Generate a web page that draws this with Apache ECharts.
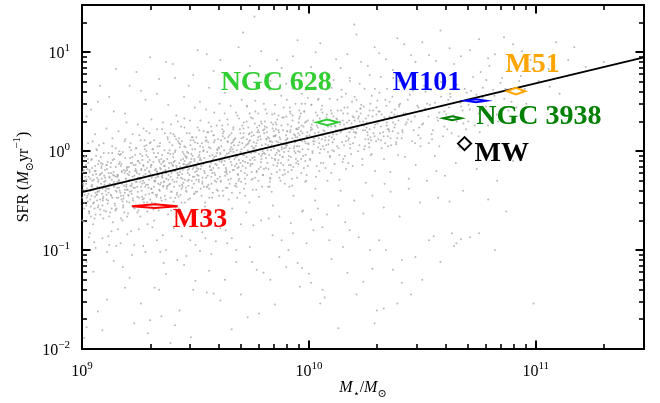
<!DOCTYPE html>
<html>
<head>
<meta charset="utf-8">
<script src="https://cdn.jsdelivr.net/npm/echarts@6/dist/echarts.min.js"></script>
<style>
  html, body { margin: 0; padding: 0; background: #fff; }
  #chart { width: 660px; height: 403px; }
</style>
</head>
<body>
<div id="chart"></div>
<script>
// ---- Galaxy sample: flat pairs of (log10 M*, log10 SFR) ----
// main sequence, 10^9 - 10^9.5 Msun
const mainSeqLow = [
  9.003,-0.21, 9.011,-0.52, 9.018,-0.33, 9.026,-0.08, 9.031,-0.61, 9.037,-0.40, 9.044,-0.17, 9.049,-0.74, 9.052,-0.29, 9.058,-0.46,
  9.063,0.02, 9.067,-0.36, 9.072,-0.55, 9.078,-0.24, 9.083,-0.12, 9.089,-0.43, 9.094,-0.68, 9.098,-0.31, 9.006,-0.39, 9.014,-0.05,
  9.021,-0.47, 9.029,-0.26, 9.035,-0.83, 9.041,-0.35, 9.047,0.10, 9.055,-0.58, 9.060,-0.20, 9.066,-0.44, 9.071,-0.13, 9.076,-0.37,
  9.081,-0.64, 9.087,-0.28, 9.092,-0.50, 9.096,-0.02, 9.008,-0.71, 9.016,-0.30, 9.024,-0.45, 9.033,-0.19, 9.039,-0.56, 9.046,-0.34,
  9.054,-0.92, 9.062,-0.23, 9.069,-0.41, 9.075,0.06, 9.080,-0.49, 9.086,-0.15, 9.091,-0.38, 9.097,-0.60,
  9.102,-0.27, 9.108,-0.49, 9.113,-0.11, 9.119,-0.38, 9.124,-0.62, 9.129,-0.22, 9.133,0.05, 9.138,-0.33, 9.144,-0.53, 9.149,-0.16,
  9.153,-0.41, 9.158,-0.79, 9.162,-0.29, 9.167,-0.04, 9.172,-0.45, 9.176,-0.21, 9.181,-0.57, 9.186,-0.35, 9.191,0.12, 9.195,-0.31,
  9.199,-0.66, 9.104,-0.40, 9.110,-0.18, 9.116,-0.86, 9.121,-0.26, 9.127,-0.44, 9.135,-0.09, 9.141,-0.36, 9.147,-0.60, 9.155,-0.24,
  9.160,-0.47, 9.165,0.00, 9.170,-0.32, 9.178,-0.70, 9.184,-0.19, 9.189,-0.42, 9.193,-0.28, 9.197,-0.51, 9.106,-0.14, 9.118,-0.34,
  9.131,-0.58, 9.142,-0.25, 9.151,-0.96, 9.163,-0.37, 9.174,-0.13, 9.183,-0.48, 9.192,-0.20, 9.198,-0.39,
  9.298,-0.09, 9.291,-0.34, 9.287,-0.52, 9.280,-0.23, 9.276,0.11, 9.269,-0.30, 9.262,-0.18, 9.257,-0.66, 9.250,-0.27, 9.246,-0.41,
  9.239,0.03, 9.234,-0.20, 9.227,-0.37, 9.221,-0.12, 9.216,-0.81, 9.210,-0.29, 9.205,-0.45, 9.200,-0.16, 9.294,-0.25, 9.283,-0.04,
  9.273,-0.48, 9.265,-0.33, 9.253,0.16, 9.242,-0.22, 9.232,-0.58, 9.223,-0.26, 9.212,-0.07, 9.202,-0.39, 9.289,-0.74, 9.278,-0.19,
  9.260,-0.36, 9.248,-0.10, 9.237,-0.31, 9.225,-0.50, 9.214,0.08, 9.207,-0.24, 9.296,-0.43, 9.271,-0.15, 9.255,-0.28, 9.230,-0.95,
  9.219,-0.35, 9.284,0.20, 9.244,-0.62, 9.266,-0.05, 9.209,-0.21, 9.236,-0.14, 9.274,-0.32, 9.251,-0.47,
  9.347,-0.18, 9.312,-0.42, 9.389,-0.03, 9.325,-0.27, 9.371,-0.55, 9.303,0.09, 9.358,-0.21, 9.336,-0.33, 9.394,-0.12, 9.318,-0.70,
  9.381,-0.24, 9.342,0.05, 9.306,-0.38, 9.365,-0.15, 9.329,-0.46, 9.353,0.22, 9.399,-0.29, 9.315,-0.11, 9.374,-0.36, 9.338,-0.60,
  9.386,0.01, 9.321,-0.19, 9.361,-0.31, 9.308,-0.52, 9.349,-0.08, 9.392,-0.41, 9.333,-0.25, 9.377,0.14, 9.301,-0.23, 9.356,-0.85,
  9.327,-0.06, 9.384,-0.34, 9.344,-0.17, 9.368,-0.49, 9.311,0.02, 9.396,-0.20, 9.340,-0.39, 9.362,-0.10, 9.323,-0.30, 9.379,-0.64,
  9.305,-0.14, 9.352,-0.26, 9.390,0.18, 9.331,-0.44, 9.370,-0.22, 9.317,-0.02, 9.359,-0.35, 9.345,-1.02,
  9.404,-0.11, 9.471,-0.29, 9.433,0.07, 9.492,-0.16, 9.418,-0.44, 9.455,-0.05, 9.441,-0.23, 9.409,0.15, 9.486,-0.37, 9.463,-0.14,
  9.427,-0.58, 9.498,0.02, 9.412,-0.20, 9.447,-0.32, 9.479,0.11, 9.436,-0.09, 9.421,-0.27, 9.468,-0.49, 9.402,-0.03, 9.489,-0.18,
  9.452,0.24, 9.430,-0.35, 9.475,-0.12, 9.415,-0.66, 9.444,-0.01, 9.495,-0.26, 9.458,-0.40, 9.424,0.10, 9.482,-0.08, 9.407,-0.31,
  9.466,-0.19, 9.439,-0.52, 9.451,0.05, 9.416,-0.15, 9.493,-0.43, 9.428,-0.24, 9.474,0.18, 9.449,-0.13, 9.405,-0.78, 9.484,-0.30,
  9.461,-0.06, 9.432,-0.21, 9.423,0.30, 9.496,-0.10, 9.443,-0.36, 9.469,-0.02, 9.411,-0.47, 9.477,-0.90
];

// main sequence, 10^9.5 - 10^10 Msun
const mainSeqMid = [
  9.513,-0.06, 9.547,-0.27, 9.582,0.09, 9.526,-0.15, 9.561,-0.38, 9.595,-0.02, 9.504,0.14, 9.538,-0.20, 9.573,-0.47, 9.519,-0.09,
  9.552,0.19, 9.588,-0.13, 9.531,-0.31, 9.566,0.03, 9.508,-0.24, 9.542,-0.56, 9.577,-0.08, 9.599,0.12, 9.523,-0.18, 9.557,-0.34,
  9.535,0.00, 9.584,-0.22, 9.501,-0.41, 9.569,0.25, 9.546,-0.11, 9.515,-0.29, 9.591,-0.05, 9.528,0.08, 9.563,-0.16, 9.540,-0.63,
  9.579,0.16, 9.510,-0.12, 9.554,-0.25, 9.593,-0.39, 9.533,0.04, 9.571,-0.19, 9.521,-0.07, 9.586,-0.30, 9.549,0.11, 9.506,-0.17,
  9.559,-0.72, 9.597,0.01, 9.537,-0.36, 9.575,-0.04, 9.517,0.21, 9.544,-0.88,
  9.604,0.03, 9.637,-0.21, 9.672,0.12, 9.618,-0.09, 9.651,-0.33, 9.689,0.06, 9.625,0.20, 9.660,-0.14, 9.696,-0.42, 9.609,-0.02,
  9.643,0.27, 9.678,-0.06, 9.631,-0.25, 9.665,0.09, 9.602,-0.17, 9.647,-0.49, 9.683,0.01, 9.621,0.15, 9.656,-0.11, 9.693,-0.28,
  9.614,0.05, 9.669,-0.19, 9.635,-0.37, 9.606,0.31, 9.676,-0.04, 9.641,0.10, 9.687,-0.23, 9.627,-0.07, 9.662,-0.58, 9.698,0.18,
  9.612,-0.30, 9.653,0.02, 9.681,-0.13, 9.623,-0.45, 9.667,0.22, 9.639,-0.03, 9.691,-0.16, 9.608,-0.66, 9.658,0.08, 9.629,-0.10,
  9.674,-0.35, 9.645,0.14, 9.616,-0.08, 9.685,0.36, 9.633,-0.80, 9.699,-0.01,
  9.707,0.08, 9.742,-0.15, 9.776,0.21, 9.715,-0.04, 9.753,-0.28, 9.788,0.12, 9.726,0.30, 9.761,-0.09, 9.794,-0.36, 9.703,0.02,
  9.735,0.17, 9.770,-0.20, 9.719,-0.45, 9.749,0.05, 9.782,0.26, 9.731,-0.12, 9.766,-0.01, 9.711,0.14, 9.798,-0.24, 9.745,0.34,
  9.722,-0.17, 9.757,0.09, 9.790,-0.05, 9.738,-0.52, 9.773,0.19, 9.701,-0.31, 9.729,0.07, 9.764,0.40, 9.796,0.00, 9.717,-0.22,
  9.751,-0.07, 9.785,0.15, 9.733,0.24, 9.768,-0.39, 9.709,-0.10, 9.740,0.11, 9.779,-0.18, 9.724,-0.62, 9.759,0.03, 9.792,0.28,
  9.713,0.18, 9.747,-0.29, 9.780,-0.03, 9.727,0.45, 9.755,-0.75,
  9.872,-0.19, 9.815,0.24, 9.893,0.07, 9.844,0.15, 9.807,-0.03, 9.861,0.32, 9.829,-0.27, 9.880,0.02, 9.851,-0.09, 9.803,0.18,
  9.898,0.11, 9.836,-0.41, 9.866,0.21, 9.821,0.06, 9.887,-0.14, 9.848,0.38, 9.811,-0.07, 9.875,-0.30, 9.832,0.10, 9.857,0.27,
  9.890,-0.01, 9.825,0.13, 9.869,0.00, 9.802,-0.18, 9.841,-0.55, 9.883,0.34, 9.818,0.01, 9.854,0.16, 9.895,-0.23, 9.838,0.09,
  9.863,-0.12, 9.809,0.42, 9.877,0.08, 9.827,-0.36, 9.846,0.20, 9.885,-0.06, 9.813,0.12, 9.859,-0.21, 9.834,0.29, 9.899,0.04,
  9.823,-0.68, 9.871,0.14, 9.852,-0.04, 9.806,0.25,
  9.953,0.18, 9.921,-0.06, 9.988,0.30, 9.904,0.12, 9.967,-0.22, 9.936,0.05, 9.979,0.40, 9.912,-0.14, 9.945,0.23, 9.997,0.08,
  9.928,0.36, 9.960,-0.01, 9.907,0.27, 9.984,-0.31, 9.941,0.14, 9.972,0.02, 9.916,0.44, 9.951,-0.10, 9.993,0.19, 9.932,-0.45,
  9.963,0.11, 9.901,0.06, 9.976,0.25, 9.924,-0.19, 9.957,0.33, 9.986,-0.04, 9.939,0.16, 9.910,0.00, 9.969,0.48, 9.948,-0.27,
  9.919,0.21, 9.981,0.10, 9.934,0.03, 9.995,-0.15, 9.955,0.29, 9.927,0.13, 9.974,-0.60, 9.905,0.20, 9.943,-0.08, 9.965,0.38,
  9.990,0.15, 9.914,-0.36
];

// densest ridge of the sequence, 10^9 - 10^10.4 Msun
const mainSeqCore = [
  9.002,-0.47, 9.037,-0.28, 9.019,-0.55, 9.044,-0.36, 9.008,-0.19, 9.031,-0.61, 9.013,-0.40, 9.048,-0.24, 9.025,-0.51, 9.005,-0.33,
  9.040,-0.66, 9.017,-0.14, 9.029,-0.43, 9.046,-0.30, 9.010,-0.58, 9.034,-0.21, 9.022,-0.38, 9.001,-0.70, 9.042,-0.45, 9.015,-0.26,
  9.027,-0.12, 9.049,-0.53, 9.007,-0.35, 9.036,-0.49, 9.020,-0.29, 9.043,-0.08, 9.011,-0.44, 9.032,-0.63, 9.024,-0.18, 9.046,-0.39,
  9.071,-0.31, 9.053,-0.52, 9.088,-0.22, 9.064,-0.44, 9.096,-0.36, 9.058,-0.15, 9.080,-0.59, 9.067,-0.27, 9.092,-0.48, 9.051,-0.39,
  9.075,-0.10, 9.084,-0.33, 9.060,-0.64, 9.098,-0.25, 9.069,-0.41, 9.056,-0.20, 9.090,-0.55, 9.078,-0.37, 9.062,-0.05, 9.094,-0.46,
  9.073,-0.29, 9.055,-0.68, 9.086,-0.17, 9.066,-0.50, 9.099,-0.34, 9.059,-0.42, 9.082,-0.23, 9.070,-0.57, 9.091,-0.13, 9.076,-0.40,
  9.117,-0.42, 9.139,-0.21, 9.103,-0.30, 9.146,-0.55, 9.128,-0.12, 9.111,-0.38, 9.134,-0.47, 9.150,-0.26, 9.106,-0.61, 9.123,-0.33,
  9.142,-0.08, 9.115,-0.50, 9.131,-0.29, 9.101,-0.19, 9.148,-0.40, 9.120,-0.66, 9.137,-0.24, 9.108,-0.44, 9.126,-0.16, 9.144,-0.35,
  9.113,-0.53, 9.133,-0.02, 9.104,-0.37, 9.121,-0.27, 9.149,-0.59, 9.110,-0.14, 9.129,-0.45, 9.141,-0.31, 9.118,-0.22, 9.136,-0.72,
  9.158,-0.26, 9.183,-0.45, 9.167,-0.11, 9.196,-0.34, 9.152,-0.58, 9.175,-0.20, 9.189,-0.39, 9.161,-0.03, 9.179,-0.51, 9.193,-0.28,
  9.155,-0.37, 9.171,-0.15, 9.186,-0.62, 9.164,-0.30, 9.199,-0.19, 9.153,-0.47, 9.177,-0.33, 9.191,-0.07, 9.169,-0.42, 9.159,-0.24,
  9.182,-0.55, 9.195,-0.36, 9.163,-0.13, 9.174,-0.49, 9.188,-0.22, 9.156,-0.31, 9.172,-0.68, 9.197,-0.17, 9.166,-0.40, 9.180,-0.01,
  9.213,-0.35, 9.236,-0.18, 9.204,-0.44, 9.247,-0.27, 9.222,-0.06, 9.209,-0.52, 9.241,-0.31, 9.228,-0.14, 9.218,-0.40, 9.249,-0.60,
  9.201,-0.23, 9.233,-0.37, 9.216,0.01, 9.244,-0.46, 9.226,-0.29, 9.207,-0.16, 9.238,-0.55, 9.220,-0.33, 9.246,-0.10, 9.211,-0.41,
  9.231,-0.25, 9.203,-0.63, 9.240,-0.20, 9.224,-0.48, 9.215,-0.12, 9.243,-0.36, 9.229,-0.57, 9.206,-0.30, 9.235,-0.04, 9.219,-0.43,
  9.283,-0.34, 9.254,-0.12, 9.297,-0.21, 9.268,-0.49, 9.277,0.02, 9.259,-0.28, 9.290,-0.06, 9.263,-0.40, 9.286,-0.17, 9.251,-0.55,
  9.272,-0.25, 9.299,0.08, 9.257,-0.31, 9.280,-0.44, 9.266,-0.09, 9.293,-0.37, 9.261,-0.19, 9.275,0.05, 9.252,-0.23, 9.288,-0.61,
  9.270,-0.14, 9.295,-0.29, 9.256,-0.03, 9.279,-0.36, 9.265,-0.46, 9.291,-0.11, 9.258,-0.27, 9.284,0.00, 9.273,-0.52, 9.296,-0.20,
  9.318,-0.30, 9.341,-0.11, 9.305,-0.38, 9.329,-0.20, 9.347,-0.47, 9.312,0.02, 9.336,-0.26, 9.323,-0.53, 9.303,-0.16, 9.344,-0.34,
  9.327,-0.06, 9.309,-0.42, 9.338,-0.23, 9.315,-0.59, 9.349,-0.13, 9.321,-0.31, 9.333,0.05, 9.307,-0.27, 9.343,-0.40, 9.326,-0.18,
  9.301,-0.49, 9.339,-0.09, 9.317,-0.36, 9.331,-0.21, 9.346,-0.56, 9.311,-0.25, 9.335,-0.02, 9.324,-0.44, 9.306,-0.14, 9.348,-0.32,
  9.362,-0.15, 9.388,-0.33, 9.354,-0.24, 9.379,-0.02, 9.396,-0.41, 9.367,-0.19, 9.351,-0.50, 9.384,-0.12, 9.372,-0.28, 9.398,0.06,
  9.358,-0.36, 9.376,-0.08, 9.391,-0.26, 9.365,-0.45, 9.382,-0.17, 9.353,-0.04, 9.370,-0.55, 9.394,-0.22, 9.361,-0.31, 9.386,0.09,
  9.374,-0.38, 9.357,-0.11, 9.390,-0.47, 9.368,-0.20, 9.381,-0.29, 9.399,-0.14, 9.363,0.01, 9.377,-0.35, 9.355,-0.27, 9.393,-0.60,
  9.436,-0.27, 9.402,-0.06, 9.447,-0.13, 9.419,-0.42, 9.428,0.08, 9.407,-0.20, 9.441,-0.34, 9.412,0.01, 9.433,-0.16, 9.404,-0.51,
  9.449,-0.03, 9.423,-0.24, 9.415,0.12, 9.438,-0.38, 9.409,-0.10, 9.444,-0.19, 9.426,-0.46, 9.401,-0.15, 9.431,0.04, 9.417,-0.31,
  9.446,-0.08, 9.421,-0.22, 9.406,-0.36, 9.440,0.10, 9.413,-0.57, 9.429,-0.12, 9.443,-0.28, 9.410,-0.01, 9.434,-0.44, 9.418,-0.17,
  9.487,-0.05, 9.453,-0.29, 9.472,-0.18, 9.498,0.09, 9.461,-0.41, 9.480,-0.11, 9.456,0.04, 9.493,-0.33, 9.467,-0.22, 9.484,0.14,
  9.451,-0.16, 9.476,-0.48, 9.495,-0.08, 9.463,-0.01, 9.489,-0.26, 9.458,-0.37, 9.478,0.06, 9.470,-0.13, 9.499,-0.21, 9.454,-0.52,
  9.482,-0.03, 9.465,-0.30, 9.491,0.11, 9.459,-0.14, 9.474,-0.24, 9.496,-0.43, 9.460,-0.07, 9.486,0.02, 9.469,-0.35, 9.452,-0.10,
  9.512,-0.18, 9.536,0.01, 9.504,-0.29, 9.548,-0.11, 9.523,-0.38, 9.509,0.08, 9.541,-0.22, 9.517,-0.04, 9.530,-0.33, 9.546,0.14,
  9.502,-0.15, 9.527,-0.45, 9.539,-0.07, 9.514,-0.25, 9.549,-0.36, 9.521,0.05, 9.506,-0.20, 9.534,-0.13, 9.543,-0.52, 9.519,-0.01,
  9.531,-0.27, 9.508,-0.41, 9.545,0.10, 9.525,-0.09, 9.515,-0.31,
  9.563,-0.05, 9.587,-0.24, 9.556,0.09, 9.594,-0.14, 9.571,-0.33, 9.552,-0.01, 9.581,0.16, 9.598,-0.28, 9.566,-0.19, 9.577,-0.42,
  9.559,0.04, 9.590,-0.09, 9.574,-0.22, 9.553,-0.36, 9.585,0.11, 9.568,-0.12, 9.596,0.02, 9.561,-0.47, 9.579,-0.17, 9.592,-0.31,
  9.557,0.19, 9.583,-0.06, 9.570,-0.26, 9.599,-0.40, 9.564,-0.15,
  9.647,-0.02, 9.608,-0.26, 9.629,0.13, 9.615,-0.11, 9.641,-0.37, 9.602,0.04, 9.636,-0.19, 9.621,0.18, 9.649,-0.08, 9.611,-0.31,
  9.625,-0.14, 9.643,0.09, 9.604,-0.45, 9.632,-0.05, 9.618,0.22, 9.639,-0.23, 9.607,-0.10, 9.627,0.01, 9.645,-0.29, 9.613,0.11,
  9.634,-0.17, 9.620,-0.40, 9.650,0.16, 9.609,-0.03, 9.631,-0.21,
  9.663,0.02, 9.686,-0.17, 9.656,-0.28, 9.694,0.09, 9.672,-0.08, 9.659,0.18, 9.681,-0.36, 9.698,-0.12, 9.667,-0.01, 9.676,0.13,
  9.652,-0.21, 9.690,-0.30, 9.670,0.06, 9.683,-0.05, 9.661,-0.42, 9.696,0.22, 9.674,-0.15, 9.655,0.00, 9.688,-0.24, 9.668,0.11,
  9.679,-0.33, 9.692,-0.09, 9.658,0.04, 9.684,-0.47, 9.665,-0.19,
  9.741,-0.09, 9.703,0.13, 9.728,-0.24, 9.716,0.04, 9.749,0.19, 9.708,-0.15, 9.734,0.08, 9.721,-0.33, 9.745,-0.02, 9.712,0.23,
  9.737,0.10, 9.701,-0.20, 9.725,-0.06, 9.747,0.15, 9.718,-0.28, 9.731,0.01, 9.706,0.26, 9.743,-0.13, 9.723,0.06, 9.714,-0.38,
  9.739,0.18, 9.710,-0.04, 9.727,0.12, 9.748,-0.21, 9.719,-0.11,
  9.791,-0.08, 9.757,0.16, 9.778,-0.30, 9.766,0.05, 9.799,0.21, 9.751,-0.13, 9.784,0.02, 9.770,-0.21, 9.762,0.28, 9.795,-0.03,
  9.774,0.11, 9.753,-0.39, 9.787,-0.16, 9.769,0.08, 9.781,0.19, 9.760,-0.06, 9.797,-0.24, 9.776,0.14, 9.755,0.03, 9.789,-0.11,
  9.764,-0.27, 9.772,0.24, 9.793,0.06, 9.758,-0.01, 9.780,-0.46,
  9.813,0.12, 9.837,-0.07, 9.804,0.22, 9.846,0.03, 9.822,-0.18, 9.809,0.07, 9.842,0.27, 9.817,-0.12, 9.830,-0.28, 9.848,0.15,
  9.802,-0.02, 9.827,0.10, 9.835,-0.23, 9.815,0.19, 9.844,-0.14, 9.820,-0.36, 9.806,0.30, 9.833,0.01, 9.849,-0.08, 9.819,0.14,
  9.828,-0.31, 9.840,0.23, 9.811,-0.17, 9.836,0.06, 9.825,-0.04,
  9.899,0.16, 9.866,-0.09, 9.881,0.04, 9.853,0.29, 9.892,-0.19, 9.874,0.12, 9.858,-0.02, 9.886,0.21, 9.870,-0.27, 9.896,0.07,
  9.851,0.15, 9.877,-0.12, 9.889,0.34, 9.863,0.01, 9.883,-0.06, 9.857,0.10, 9.894,-0.33, 9.868,0.19, 9.879,0.26, 9.860,-0.15,
  9.891,0.03, 9.872,-0.04, 9.855,0.22, 9.885,-0.24, 9.865,0.09,
  9.928,0.31, 9.903,0.06, 9.944,-0.12, 9.917,0.19, 9.936,0.00, 9.908,-0.21, 9.949,0.14, 9.922,0.25, 9.912,-0.05, 9.939,0.09,
  9.901,0.35, 9.931,-0.16, 9.946,0.22, 9.915,0.03, 9.925,-0.28, 9.906,0.13, 9.941,-0.02, 9.919,0.38, 9.934,0.17, 9.910,-0.09,
  9.948,0.05, 9.927,-0.35, 9.904,0.20, 9.937,0.11, 9.920,-0.14,
  9.957,0.05, 9.983,0.29, 9.966,-0.08, 9.992,0.15, 9.951,0.22, 9.978,-0.17, 9.960,0.35, 9.997,0.02, 9.972,0.18, 9.954,-0.13,
  9.986,0.08, 9.968,0.26, 9.990,-0.24, 9.963,0.12, 9.980,0.40, 9.952,0.00, 9.975,-0.05, 9.995,0.31, 9.959,0.16, 9.988,-0.30,
  9.970,0.10, 9.956,0.24, 9.984,-0.10, 9.965,0.20, 9.999,0.07,
  10.013,0.27, 10.041,0.04, 10.026,0.18, 10.004,-0.08, 10.048,0.33, 10.019,0.10, 10.035,-0.15, 10.008,0.21, 10.044,0.13, 10.030,0.39,
  10.016,-0.02, 10.039,0.24, 10.022,0.07, 10.046,-0.20,
  10.087,0.11, 10.058,0.30, 10.093,-0.06, 10.069,0.20, 10.052,0.02, 10.079,0.37, 10.064,-0.12, 10.098,0.25, 10.073,0.14, 10.055,0.42,
  10.084,-0.01, 10.061,0.16, 10.091,0.28, 10.076,0.06,
  10.121,0.33, 10.146,0.09, 10.107,0.17, 10.134,-0.04, 10.115,0.26, 10.142,0.41, 10.103,0.01, 10.128,0.21, 10.149,-0.11, 10.111,0.12,
  10.137,0.30, 10.124,0.05, 10.101,0.38, 10.140,0.19,
  10.166,0.15, 10.193,0.35, 10.155,0.27, 10.182,0.03, 10.171,0.44, 10.198,0.19, 10.159,-0.05, 10.187,0.24, 10.163,0.10, 10.177,0.31,
  10.151,0.38, 10.195,0.08, 10.174,-0.12, 10.186,0.22,
  10.238,0.21, 10.211,0.40, 10.247,0.05, 10.224,0.30, 10.203,0.14, 10.231,0.47, 10.217,0.00, 10.244,0.26, 10.208,0.18, 10.235,-0.08,
  10.220,0.35, 10.249,0.12, 10.213,0.23, 10.227,0.43,
  10.262,0.36, 10.289,0.15, 10.271,0.48, 10.254,0.24, 10.296,0.30, 10.266,0.04, 10.283,0.41, 10.258,0.19, 10.277,-0.03, 10.292,0.27,
  10.251,0.33, 10.274,0.11, 10.298,0.44, 10.268,0.22,
  10.318,0.25, 10.342,0.46, 10.306,0.12, 10.333,0.34, 10.349,0.05, 10.312,0.40, 10.327,0.19, 10.344,0.29, 10.302,0.51, 10.336,0.08,
  10.321,0.37, 10.347,0.22, 10.309,0.30, 10.330,0.15,
  10.371,0.29, 10.356,0.50, 10.393,0.18, 10.364,0.39, 10.385,0.07, 10.352,0.33, 10.398,0.45, 10.377,0.24, 10.360,0.13, 10.389,0.36,
  10.368,0.55, 10.381,0.27, 10.354,0.20, 10.395,0.31
];

// upper edge of the sequence
const upperEnvelope = [
  9.012,-0.06, 9.027,0.08, 9.041,-0.09, 9.058,0.17, 9.066,0.01, 9.083,-0.06, 9.095,0.08, 9.108,0.23, 9.117,-0.02, 9.134,0.13,
  9.149,0.03, 9.161,0.20, 9.172,-0.03, 9.188,0.10, 9.196,0.29, 9.209,0.04, 9.223,0.17, 9.238,0.03, 9.246,0.27, 9.259,0.11,
  9.271,0.23, 9.284,0.06, 9.297,0.18, 9.306,0.32, 9.318,0.11, 9.331,0.22, 9.344,0.08, 9.357,0.29, 9.365,0.18, 9.378,0.12,
  9.392,0.27, 9.403,0.17, 9.416,0.36, 9.428,0.13, 9.437,0.25, 9.451,0.33, 9.462,0.18, 9.476,0.31, 9.488,0.14, 9.497,0.44,
  9.509,0.24, 9.522,0.31, 9.536,0.20, 9.547,0.42, 9.558,0.29, 9.571,0.20, 9.583,0.39, 9.594,0.26, 9.606,0.48, 9.618,0.26,
  9.629,0.38, 9.641,0.32, 9.655,0.46, 9.667,0.24, 9.679,0.39, 9.692,0.33, 9.704,0.52, 9.713,0.29, 9.728,0.46, 9.739,0.38,
  9.752,0.33, 9.764,0.51, 9.777,0.38, 9.789,0.30, 9.801,0.48, 9.815,0.38, 9.826,0.62, 9.838,0.37, 9.851,0.47, 9.866,0.36,
  9.878,0.56, 9.889,0.44, 9.903,0.52, 9.917,0.40, 9.929,0.63, 9.941,0.48, 9.958,0.41, 9.969,0.58, 9.984,0.48, 9.996,0.54,
  10.011,0.47, 10.026,0.65, 10.043,0.53, 10.058,0.46, 10.074,0.62, 10.092,0.53, 10.109,0.72, 10.126,0.52, 10.144,0.62, 10.163,0.58,
  10.181,0.71, 10.202,0.55, 10.224,0.68, 10.245,0.63, 10.268,0.77, 10.291,0.63, 10.317,0.75, 10.344,0.63, 10.372,0.74, 10.398,0.71
];

// main sequence above 10^10 Msun
const mainSeqHigh = [
  10.014,0.22, 10.062,0.05, 10.037,0.36, 10.089,0.15, 10.006,-0.09, 10.051,0.28, 10.073,-0.17, 10.025,0.10, 10.097,0.41, 10.043,0.19,
  10.011,0.47, 10.068,0.02, 10.032,-0.26, 10.084,0.25, 10.057,0.12, 10.019,0.31, 10.093,-0.05, 10.046,0.08, 10.077,0.34, 10.003,0.16,
  10.029,-0.38, 10.064,0.21, 10.040,0.52, 10.086,0.07, 10.016,0.00, 10.053,-0.12, 10.079,0.18, 10.035,0.26, 10.099,-0.22, 10.022,0.13,
  10.060,0.39, 10.048,-0.02, 10.009,0.24, 10.071,0.11, 10.091,0.30, 10.027,-0.50, 10.055,0.17, 10.082,-0.30,
  10.138,0.27, 10.104,0.09, 10.171,0.38, 10.122,0.17, 10.186,-0.03, 10.149,0.31, 10.113,-0.13, 10.195,0.22, 10.157,0.44, 10.131,0.03,
  10.176,0.13, 10.108,0.35, 10.164,-0.18, 10.143,0.20, 10.190,0.50, 10.117,0.25, 10.182,0.07, 10.152,-0.08, 10.127,0.41, 10.168,0.29,
  10.101,0.14, 10.198,0.34, 10.135,-0.29, 10.179,0.19, 10.145,0.55, 10.111,0.00, 10.161,0.24, 10.193,-0.15, 10.125,0.32, 10.174,0.11,
  10.140,-0.40, 10.188,0.28, 10.119,0.21, 10.155,0.06,
  10.217,0.33, 10.262,0.12, 10.241,0.45, 10.289,0.24, 10.205,0.19, 10.273,-0.04, 10.228,0.38, 10.255,0.29, 10.296,0.10, 10.236,-0.14,
  10.210,0.52, 10.281,0.35, 10.248,0.21, 10.223,0.06, 10.268,0.41, 10.292,-0.20, 10.233,0.27, 10.259,0.16, 10.202,0.31, 10.277,0.56,
  10.244,0.02, 10.214,0.25, 10.285,0.18, 10.251,-0.32, 10.227,0.43, 10.265,0.08, 10.298,0.37, 10.239,0.30, 10.271,0.14,
  10.352,0.22, 10.307,0.40, 10.389,0.13, 10.331,-0.08, 10.366,0.33, 10.314,0.18, 10.398,0.47, 10.343,0.26, 10.321,0.03, 10.377,0.37,
  10.359,-0.21, 10.302,0.28, 10.384,0.09, 10.337,0.52, 10.370,0.20, 10.326,0.31, 10.393,-0.04, 10.348,0.15, 10.311,0.59, 10.362,0.06,
  10.380,0.42, 10.334,-0.33, 10.356,0.35, 10.318,0.11,
  10.431,0.29, 10.478,0.46, 10.409,0.13, 10.462,0.21, 10.445,0.57, 10.492,0.05, 10.418,0.38, 10.471,-0.14, 10.437,0.32, 10.403,0.48,
  10.486,0.24, 10.455,0.10, 10.424,-0.06, 10.497,0.40, 10.449,0.63, 10.413,0.19, 10.467,0.35, 10.440,-0.28, 10.482,0.16, 10.426,0.27,
  10.512,0.43, 10.547,0.21, 10.583,0.55, 10.529,0.08, 10.566,0.34, 10.504,0.28, 10.591,0.15, 10.538,0.62, 10.555,-0.05, 10.521,0.48,
  10.574,0.39, 10.597,0.25, 10.543,0.12, 10.508,0.66, 10.562,-0.20, 10.586,0.46,
  10.614,0.52, 10.652,0.30, 10.687,0.63, 10.629,0.18, 10.671,0.45, 10.605,0.37, 10.693,0.22, 10.641,0.70, 10.663,0.04, 10.622,0.58,
  10.678,0.41, 10.648,-0.12,
  10.715,0.61, 10.748,0.38, 10.782,0.72, 10.731,0.26, 10.766,0.54, 10.704,0.47, 10.795,0.33, 10.757,0.80,
  10.818,0.56, 10.852,0.74, 10.879,0.41, 10.834,0.30, 10.866,0.63, 10.893,0.50,
  10.927,0.71, 10.958,0.48, 10.985,0.83, 11.062,0.65, 11.143,0.92,
  10.412,0.21, 10.436,0.52, 10.451,0.30, 10.468,0.08, 10.483,0.44, 10.499,0.27, 10.514,0.60, 10.527,0.35, 10.541,0.17, 10.556,0.49,
  10.569,0.31, 10.583,0.70, 10.597,0.40, 10.610,0.22, 10.624,0.55, 10.639,0.36, 10.652,0.67, 10.668,0.49, 10.681,0.28, 10.695,0.59,
  10.709,0.42, 10.724,0.75, 10.738,0.57, 10.753,0.19, 10.767,0.64, 10.781,0.45, 10.796,0.86, 10.812,0.62, 10.828,0.37, 10.845,0.69,
  10.861,0.53, 10.878,0.82, 10.896,0.60, 10.915,0.44, 10.934,0.76, 10.952,0.63, 10.977,0.92, 11.013,0.71, 11.057,0.83, 11.105,0.58,
  10.427,0.38, 10.459,0.61, 10.492,0.13, 10.533,0.47, 10.575,0.05, 10.618,0.44, 10.660,0.15, 10.703,0.30, 10.745,0.51, 10.790,0.26
];

// starbursting outliers above the sequence
const upperScatter = [
  9.04,0.42, 9.12,0.55, 9.19,0.38, 9.26,0.61, 9.30,0.95, 9.34,0.73, 9.38,0.47, 9.40,0.88, 9.41,0.74, 9.28,0.52,
  9.47,0.66, 9.52,0.50, 9.58,0.81, 9.63,0.59, 9.69,1.05, 9.72,0.70, 9.76,1.36, 9.81,0.77, 9.86,0.92, 9.90,0.68,
  9.95,1.12, 10.03,1.00, 10.07,0.80, 10.12,0.93, 10.18,0.74, 10.21,1.18, 10.26,0.86, 10.31,0.99, 10.37,0.82, 10.42,1.08,
  10.47,0.90, 10.53,0.97, 10.58,1.22, 10.64,0.88, 10.71,1.02, 10.79,0.94, 10.86,1.15, 10.94,1.01, 11.09,1.10, 11.22,0.85,
  9.15,0.83, 9.08,0.66, 9.55,0.98, 9.99,0.62, 10.10,0.64,
  9.02,0.35, 9.07,0.50, 9.14,0.40, 9.21,0.66, 9.33,0.58, 9.37,0.90, 9.45,0.55, 9.49,0.77, 9.56,0.64, 9.61,0.92,
  9.66,0.72, 9.74,0.86, 9.79,1.01, 9.83,0.71, 9.88,0.84, 9.93,0.96, 9.97,0.76, 10.01,0.85, 10.05,1.09, 10.14,0.84,
  10.17,0.98, 10.23,0.90, 10.29,1.05, 10.34,0.93, 10.39,1.14, 10.45,0.97, 10.50,1.10, 10.56,0.91, 10.62,1.04, 10.67,0.96,
  10.75,1.13, 10.82,0.98, 10.90,1.08, 11.02,0.97, 11.17,1.05, 11.30,0.90, 9.24,0.80, 9.51,1.02, 9.71,1.20, 10.20,1.28
];

// green-valley galaxies just below the sequence
const valleyPoints = [
  9.06,-0.98, 9.11,-1.02, 9.17,-0.93, 9.22,-1.05, 9.27,-0.96, 9.33,-0.90, 9.37,-1.00, 9.44,-0.86, 9.50,-0.95, 9.53,-0.82,
  9.57,-1.04, 9.61,-0.78, 9.66,-0.88, 9.70,-0.74, 9.74,-0.97, 9.79,-0.70, 9.84,-0.85, 9.87,-0.66, 9.92,-0.73, 9.97,-0.61,
  10.01,-0.69, 10.04,-0.58, 10.08,-0.64, 10.13,-0.55, 10.16,-0.72, 10.20,-0.50, 10.24,-0.63, 10.28,-0.45, 10.33,-0.57, 10.36,-0.41,
  10.40,-0.66, 10.44,-0.38, 10.49,-0.52, 10.52,-0.30, 10.57,-0.47, 10.60,-0.25, 10.68,-0.40, 10.74,-0.18, 10.83,-0.30, 10.90,-0.10,
  9.02,-1.12, 9.09,-0.88, 9.13,-0.81, 9.20,-0.84, 9.25,-0.79, 9.31,-0.77, 9.36,-1.13, 9.46,-1.06, 9.59,-0.91, 9.68,-1.00
];

// weakly star-forming tail
const quenchedTail = [
  9.03,-0.87, 9.14,-1.11, 9.18,-1.17, 9.26,-1.54, 9.29,-1.84, 9.23,-1.74, 9.34,-1.40, 9.32,-1.38, 9.42,-1.10, 9.30,-1.71,
  9.39,-1.94, 9.49,-1.40, 9.55,-1.43, 9.58,-1.44, 9.64,-0.93, 9.68,-1.12, 9.75,-1.12, 9.77,-1.20, 9.83,-1.30, 9.80,-1.23,
  9.73,-1.68, 9.78,-1.64, 9.50,-1.31, 9.61,-1.51, 9.43,-1.61, 9.09,-1.81, 9.02,-1.78, 9.01,-1.89, 9.35,-1.67, 9.48,-1.88,
  9.88,-0.90, 9.91,-1.00, 9.93,-0.83, 9.99,-0.93, 10.02,-0.80, 10.06,-0.77, 10.09,-0.90, 10.15,-0.97, 10.18,-0.80, 10.22,-0.87,
  10.27,-1.00, 10.31,-0.90, 10.34,-1.00, 10.37,-1.20, 10.41,-1.10, 10.47,-1.07, 10.53,-0.90, 10.55,-0.86, 10.65,-0.93, 10.67,-0.89,
  9.95,-1.13, 9.97,-1.18, 10.00,-1.24, 9.96,-1.37, 10.06,-1.40, 10.07,-1.48, 10.10,-1.09, 10.17,-1.23, 10.21,-1.45, 10.24,-1.32,
  10.28,-1.19, 10.30,-1.61, 10.33,-1.59, 10.29,-1.74, 10.39,-1.54, 10.41,-1.33, 10.50,-1.30, 10.05,-1.54, 10.01,-1.33, 9.90,-1.17,
  9.87,-1.07, 10.62,-0.51, 10.79,-0.49, 10.87,-0.61, 10.63,-0.83, 10.71,-0.87, 10.75,-0.83, 10.64,-0.96, 10.99,-1.54,
  9.05,-1.22, 9.12,-0.95, 9.21,-1.28, 9.28,-1.02, 9.37,-1.24, 9.45,-1.15, 9.52,-1.01, 9.56,-1.21, 9.63,-1.30, 9.70,-1.45,
  9.11,-1.50, 9.19,-1.38, 9.41,-1.76, 9.66,-1.80, 9.85,-1.55, 10.13,-1.79, 10.45,-1.45, 10.58,-1.12, 10.82,-1.00, 9.07,-1.62
];

// best-fit star-forming sequence, end points (M*, SFR)
const fitLine = [[1e9, 0.385], [3e11, 8.87]];

// individual galaxies: log values and half-widths of the plotted ranges
const galaxyNames      = ['M33', 'NGC 628', 'M101', 'NGC 3938', 'MW', 'M51'];
const galaxyLogMass    = [9.321, 10.081, 10.737, 10.632, 10.686, 10.913];
const galaxyLogMassErr = [0.101, 0.047, 0.044, 0.040, 0.029, 0.040];
const galaxyLogSfr     = [-0.556, 0.291, 0.510, 0.333, 0.076, 0.606];
const galaxyLogSfrErr  = [0.018, 0.029, 0.015, 0.020, 0.066, 0.033];

// axis ranges and tick positions
const xRange = [1e9, 3e11];
const yRange = [1e-2, 30];
const xMajorTicks = [1e9, 1e10, 1e11];
const xMinorTicks = [2e9, 3e9, 4e9, 5e9, 6e9, 7e9, 8e9, 9e9,
                     2e10, 3e10, 4e10, 5e10, 6e10, 7e10, 8e10, 9e10, 2e11];
const yMajorTicks = [1e-2, 1e-1, 1, 10];
const yMinorTicks = [0.02, 0.03, 0.04, 0.05, 0.06, 0.07, 0.08, 0.09,
                     0.2, 0.3, 0.4, 0.5, 0.6, 0.7, 0.8, 0.9,
                     2, 3, 4, 5, 6, 7, 8, 9, 20];

// ---- styling ----
const FONT = '"Liberation Serif", "DejaVu Serif", serif';
const galaxyColors = ['#ff0000', '#32cd32', '#0000ff', '#008000', '#000000', '#ffa500'];
// text anchor relative to each diamond centre (px)
const galaxyLabelPos = [
  { dx: 18,  dy: 14,   align: 'left' },
  { dx: -51, dy: -40,  align: 'center' },
  { dx: -49, dy: -17.5, align: 'center' },
  { dx: 24,  dy: -1,   align: 'left' },
  { dx: 10,  dy: 10.5, align: 'left' },
  { dx: 16.5, dy: -26.5, align: 'center' }
];

function toPoints(flat) {
  const out = [];
  for (let i = 0; i < flat.length; i += 2) {
    out.push([Math.pow(10, flat[i]), Math.pow(10, flat[i + 1])]);
  }
  return out;
}
const cloud = [].concat(
  toPoints(mainSeqLow), toPoints(mainSeqMid), toPoints(mainSeqCore), toPoints(upperEnvelope),
  toPoints(mainSeqHigh), toPoints(upperScatter), toPoints(valleyPoints), toPoints(quenchedTail)
);

const galaxyData = galaxyNames.map((name, i) => {
  const m = galaxyLogMass[i], dm = galaxyLogMassErr[i];
  const s = galaxyLogSfr[i], ds = galaxyLogSfrErr[i];
  return {
    name: name,
    value: [Math.pow(10, m), Math.pow(10, m - dm), Math.pow(10, m + dm),
            Math.pow(10, s), Math.pow(10, s - ds), Math.pow(10, s + ds)]
  };
});

const powRich = {
  b: { fontFamily: FONT, fontSize: 16, color: '#000', verticalAlign: 'bottom' },
  e: { fontFamily: FONT, fontSize: 11, color: '#000', verticalAlign: 'bottom', padding: [0, 0, 8, 0] }
};
function powLabel(v) {
  const e = Math.round(Math.log10(v));
  return '{b|10}{e|' + (e < 0 ? '\u2212' + (-e) : e) + '}';
}

function makeAxis(position, range, ticks, len, width, opts) {
  opts = opts || {};
  const ax = {
    type: 'log',
    logBase: 10,
    position: position,
    min: range[0],
    max: range[1],
    axisLine: { show: false },
    splitLine: { show: false },
    axisTick: {
      show: true, inside: true, length: len,
      lineStyle: { color: '#000', width: width },
      customValues: ticks
    },
    axisLabel: { show: false, customValues: ticks }
  };
  if (opts.labels) {
    ax.axisLabel = {
      show: true,
      customValues: ticks,
      margin: opts.margin,
      formatter: powLabel,
      rich: powRich,
      showMinLabel: true,
      showMaxLabel: true
    };
  }
  if (opts.name) {
    ax.name = opts.name;
    ax.nameLocation = 'middle';
    ax.nameGap = opts.nameGap;
    ax.nameMoveOverlap = false;
    ax.nameTextStyle = { rich: opts.nameRich };
  }
  return ax;
}

const nameRich = {
  t: { fontFamily: FONT, fontSize: 16, color: '#000', verticalAlign: 'bottom', padding: [0, 0, 4, 0] },
  i: { fontFamily: FONT, fontSize: 16, fontStyle: 'italic', color: '#000', verticalAlign: 'bottom', padding: [0, 0, 4, 0] },
  s: { fontFamily: FONT, fontSize: 11, color: '#000', verticalAlign: 'bottom' },
  e: { fontFamily: FONT, fontSize: 11, color: '#000', verticalAlign: 'bottom', padding: [0, 0, 13, 0] }
};

const chart = echarts.init(document.getElementById('chart'), null, { renderer: 'canvas' });

chart.setOption({
  animation: false,
  backgroundColor: '#fff',
  grid: {
    left: 82, right: 16, top: 5, bottom: 54,
    show: true, borderColor: '#000', borderWidth: 2,
    containLabel: false, outerBoundsMode: 'none'
  },
  xAxis: [
    makeAxis('bottom', xRange, xMajorTicks, 8.5, 2, {
      labels: true, margin: 12,
      name: '{i|M}{s|\u22c6}{t|/}{i|M}{s|\u2299}', nameGap: 31, nameRich: nameRich
    }),
    makeAxis('bottom', xRange, xMinorTicks, 5, 1.6),
    makeAxis('top', xRange, xMajorTicks, 8.5, 2),
    makeAxis('top', xRange, xMinorTicks, 5, 1.6)
  ],
  yAxis: [
    makeAxis('left', yRange, yMajorTicks, 8.5, 2, {
      labels: true, margin: 12,
      name: '{t|SFR (}{i|M}{s|\u2299}{t|yr}{e|\u22121}{t|)}', nameGap: 46, nameRich: nameRich
    }),
    makeAxis('left', yRange, yMinorTicks, 5, 1.6),
    makeAxis('right', yRange, yMajorTicks, 8.5, 2),
    makeAxis('right', yRange, yMinorTicks, 5, 1.6)
  ],
  series: [
    {
      name: 'sample',
      type: 'scatter',
      xAxisIndex: 0, yAxisIndex: 0,
      data: cloud,
      symbol: 'circle',
      symbolSize: 2,
      itemStyle: { color: '#a8a8a8' },
      silent: true,
      z: 1
    },
    {
      name: 'fit',
      type: 'line',
      xAxisIndex: 0, yAxisIndex: 0,
      data: fitLine,
      symbol: 'none',
      lineStyle: { color: '#000', width: 2 },
      silent: true,
      z: 2
    },
    {
      name: 'galaxies',
      type: 'custom',
      xAxisIndex: 0, yAxisIndex: 0,
      data: galaxyData,
      encode: { x: [0, 1, 2], y: [3, 4, 5] },
      z: 3,
      silent: true,
      renderItem: function (params, api) {
        const i = params.dataIndex;
        const m = api.value(0), mLo = api.value(1), mHi = api.value(2);
        const s = api.value(3), sLo = api.value(4), sHi = api.value(5);
        const c = api.coord([m, s]);
        const pts = [api.coord([mLo, s]), api.coord([m, sHi]), api.coord([mHi, s]), api.coord([m, sLo])];
        const lp = galaxyLabelPos[i];
        return {
          type: 'group',
          children: [
            {
              type: 'polygon',
              shape: { points: pts },
              style: { fill: '#fff', stroke: galaxyColors[i], lineWidth: 2, lineJoin: 'miter' }
            },
            {
              type: 'text',
              x: c[0] + lp.dx,
              y: c[1] + lp.dy,
              style: {
                text: galaxyNames[i],
                fill: galaxyColors[i],
                font: 'bold 28px ' + FONT,
                align: lp.align,
                verticalAlign: 'middle'
              }
            }
          ]
        };
      }
    }
  ]
});
</script>
</body>
</html>
